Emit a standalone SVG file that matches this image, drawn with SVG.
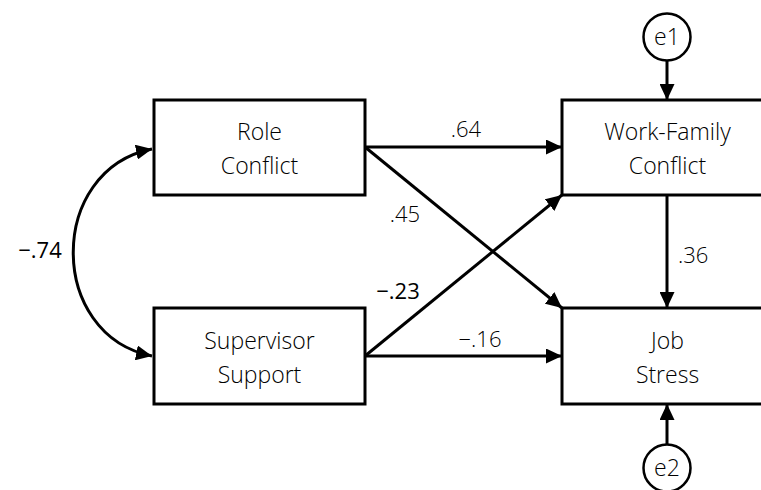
<svg xmlns="http://www.w3.org/2000/svg" width="761" height="490" viewBox="0 0 761 490">
  <style>
    .box { fill: #fff; stroke: #000; stroke-width: 3; }
    .err { fill: #fff; stroke: #000; stroke-width: 2.5; }
    .lbl { font-family: "Open Sans", "Noto Sans", sans-serif; font-weight: 300; font-size: 23px; fill: #000; text-anchor: middle; }
    .coef { font-family: "Open Sans", "Noto Sans", sans-serif; font-weight: 300; font-size: 22px; fill: #000; }
    .bold { font-weight: 400; }
    .edge { fill: none; stroke: #000; stroke-width: 3; }
  </style>
  <defs>
    <marker id="arrow" viewBox="0 0 16 15" refX="16" refY="7.5" markerWidth="16" markerHeight="15" markerUnits="userSpaceOnUse" orient="auto-start-reverse">
      <path d="M0,0 L16,7.5 L0,15 z" fill="#000"/>
    </marker>
  </defs>

  <!-- paths and covariance -->
  <g id="connectors">
    <line class="edge" x1="365" y1="147" x2="562" y2="147" marker-end="url(#arrow)"/>
    <line class="edge" x1="365" y1="147" x2="562" y2="308" marker-end="url(#arrow)"/>
    <line class="edge" x1="365" y1="356" x2="562" y2="195" marker-end="url(#arrow)"/>
    <line class="edge" x1="365" y1="356" x2="562" y2="356" marker-end="url(#arrow)"/>
    <line class="edge" x1="667" y1="195" x2="667" y2="308" marker-end="url(#arrow)"/>
    <line class="edge" x1="667" y1="61" x2="667" y2="100" marker-end="url(#arrow)"/>
    <line class="edge" x1="667" y1="444" x2="667" y2="404" marker-end="url(#arrow)"/>
    <path class="edge" d="M152,149 C47,170 47,335 152,356" marker-start="url(#arrow)" marker-end="url(#arrow)"/>

    <text class="coef" x="466" y="137" text-anchor="middle">.64</text>
    <text class="coef" x="405" y="222" text-anchor="middle">.45</text>
    <text class="coef bold" x="398" y="299" text-anchor="middle">−.23</text>
    <text class="coef" x="480" y="347" text-anchor="middle">−.16</text>
    <text class="coef" x="678" y="263">.36</text>
    <text class="coef bold" x="40" y="258" text-anchor="middle">−.74</text>
  </g>

  <g id="role-conflict">
    <rect class="box" x="154" y="100" width="211" height="95"/>
    <text class="lbl" x="259.5" y="140">Role</text>
    <text class="lbl" x="259.5" y="174">Conflict</text>
  </g>

  <g id="supervisor-support">
    <rect class="box" x="154" y="308" width="211" height="96"/>
    <text class="lbl" x="259.5" y="349">Supervisor</text>
    <text class="lbl" x="259.5" y="383">Support</text>
  </g>

  <g id="work-family-conflict">
    <rect class="box" x="562" y="100" width="212" height="95"/>
    <text class="lbl" x="667.5" y="140">Work-Family</text>
    <text class="lbl" x="667.5" y="174">Conflict</text>
  </g>

  <g id="job-stress">
    <rect class="box" x="562" y="308" width="212" height="96"/>
    <text class="lbl" x="667.5" y="349">Job</text>
    <text class="lbl" x="667.5" y="383">Stress</text>
  </g>

  <g id="e1">
    <circle class="err" cx="667" cy="37" r="23.5"/>
    <text class="lbl" x="667" y="45">e1</text>
  </g>

  <g id="e2">
    <circle class="err" cx="667" cy="468" r="23.5"/>
    <text class="lbl" x="667" y="476">e2</text>
  </g>
</svg>
